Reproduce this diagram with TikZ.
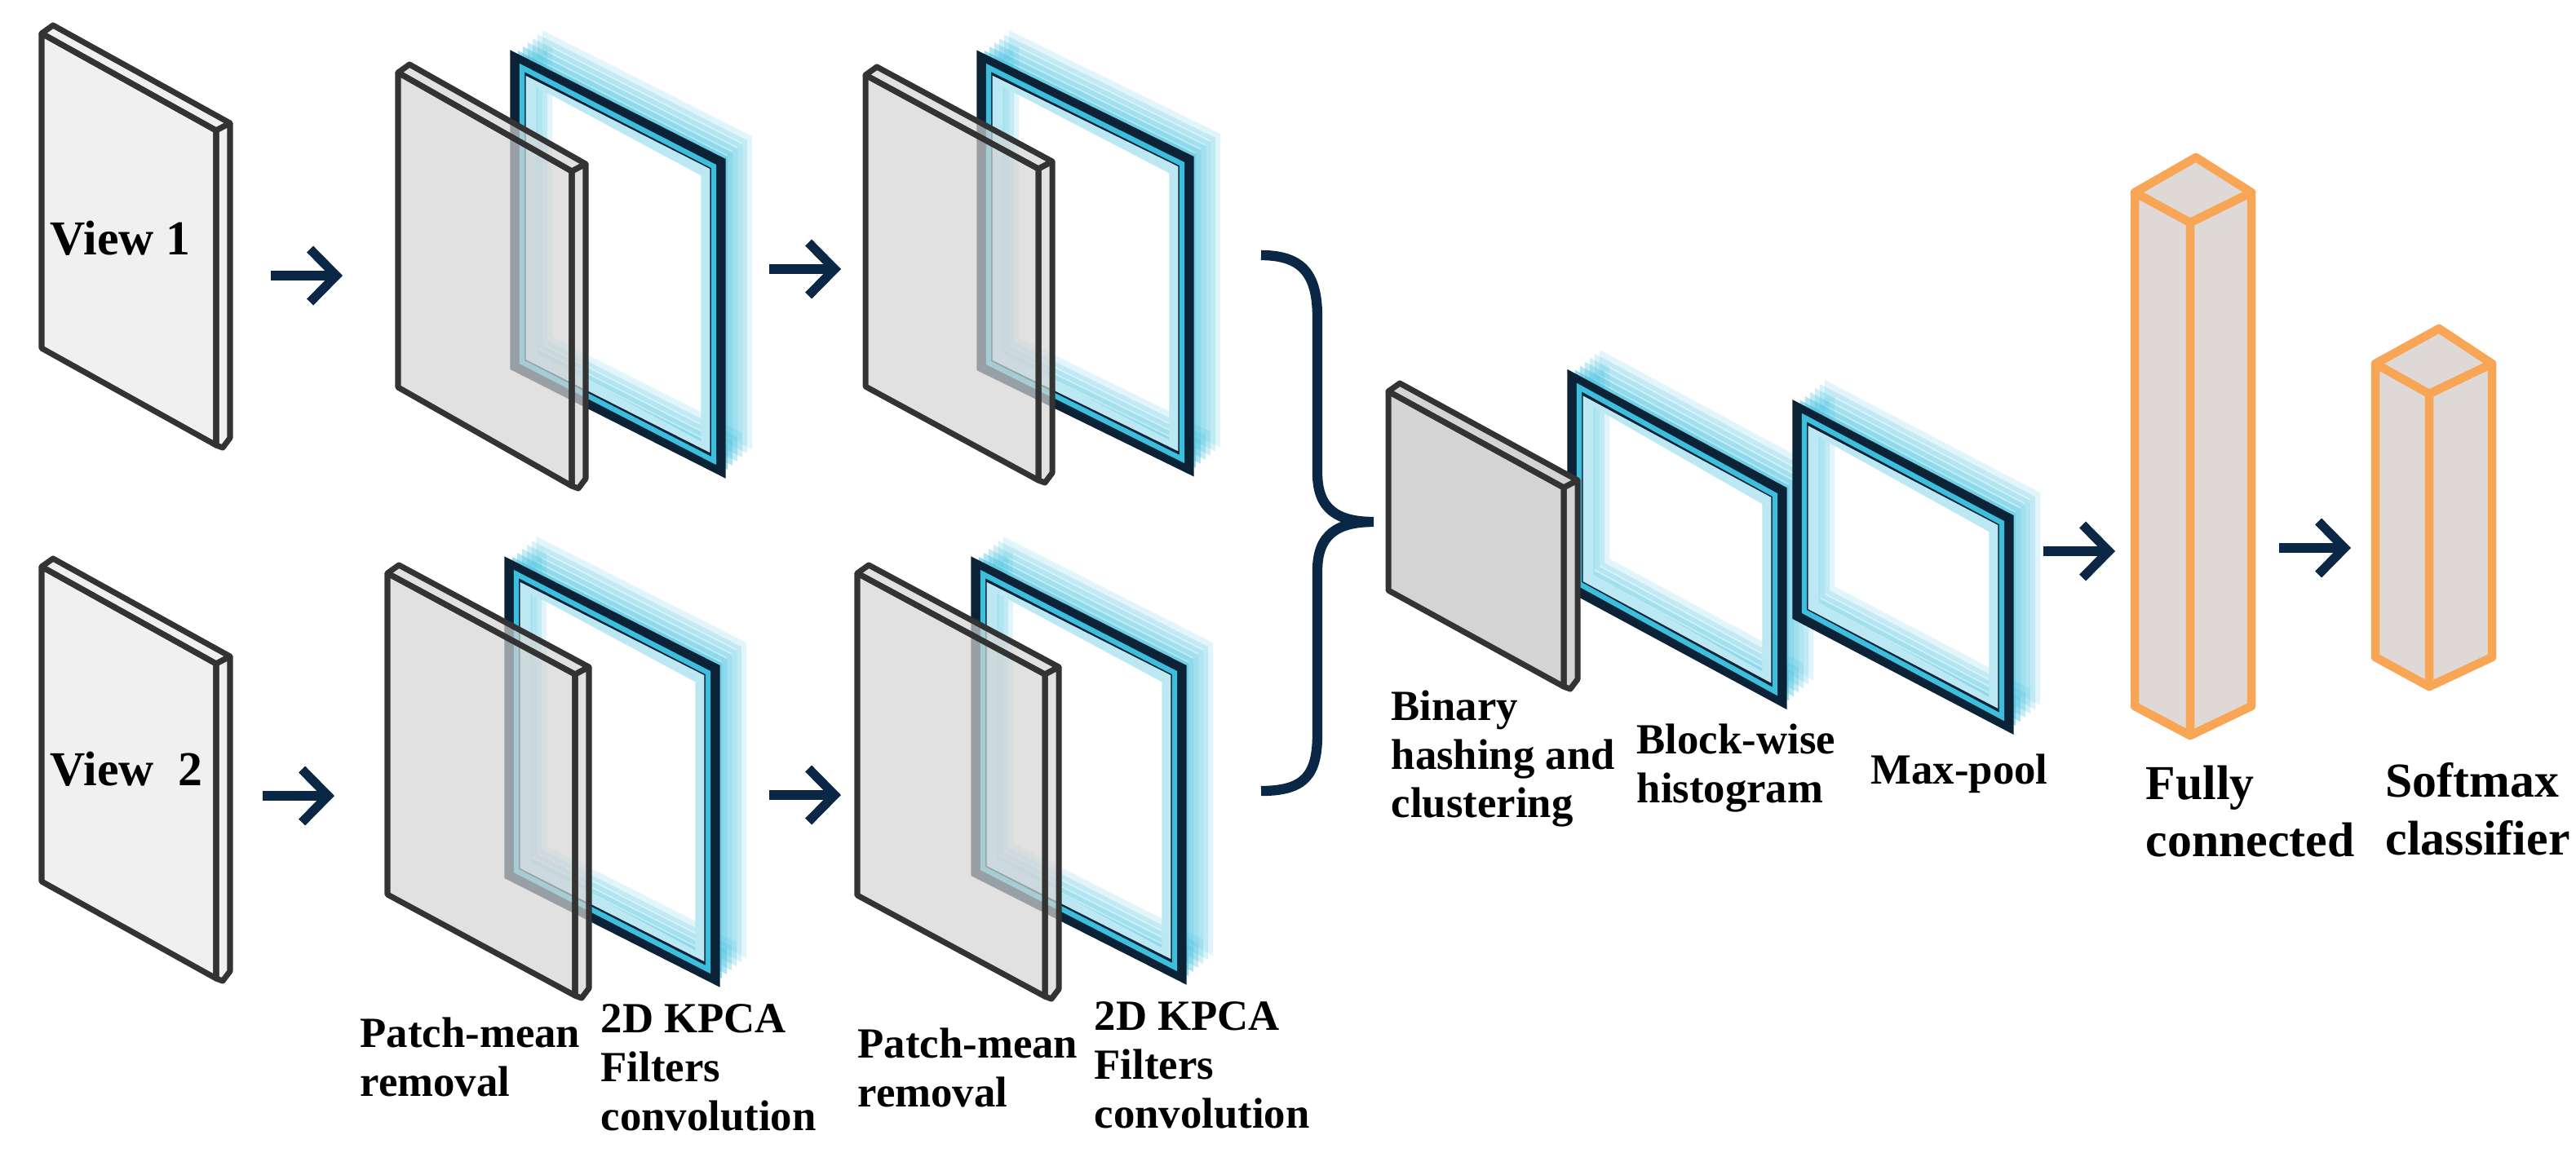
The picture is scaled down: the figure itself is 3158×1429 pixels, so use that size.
\documentclass[tikz,border=0pt]{standalone}
\usepackage{fontspec}
\setmainfont{Liberation Serif}
\usetikzlibrary{arrows.meta}
\definecolor{navy}{RGB}{10,40,70}
\definecolor{frm}{RGB}{12,35,55}
\definecolor{cy}{RGB}{60,190,220}
\definecolor{org}{RGB}{248,165,85}
\definecolor{colfill}{RGB}{222,216,214}
\newcommand{\myplate}[7]{% name x y w drop h fill
  \fill[#7] (#2,#3) -- ({#2+#4},{#3+#5}) -- ({#2+#4},{#3+#5+#6}) -- (#2,{#3+#6}) -- cycle;
  \draw[plateline,fill=#7] (#2,#3) -- ({#2+14},{#3-10}) -- ({#2+#4+17},{#3+#5-9}) -- ({#2+#4},{#3+#5}) -- cycle;
  \draw[plateline,fill=#7] ({#2+#4},{#3+#5}) -- ({#2+#4+17},{#3+#5-9}) -- ({#2+#4+17},{#3+#5+#6-9}) -- ({#2+#4+8},{#3+#5+#6+3}) -- ({#2+#4},{#3+#5+#6}) -- cycle;
  \draw[plateline] (#2,#3) -- ({#2+#4},{#3+#5}) -- ({#2+#4},{#3+#5+#6}) -- (#2,{#3+#6}) -- cycle;
  \coordinate (#1) at ({#2+#4/2},{#3+#5/2+#6/2});}
\newcommand{\myframe}[6]{% name x y w drop h
  \foreach \i/\o in {6/0.15,5/0.2,4/0.25,3/0.3,2/0.4,1/0.55}{
    \draw[cy,line width=3.5,opacity=\o] ({#2+6*\i},{#3-5*\i}) -- ({#2+#4+6*\i},{#3+#5-5*\i}) -- ({#2+#4+6*\i},{#3+#5+#6-5*\i}) -- ({#2+6*\i},{#3+#6-5*\i}) -- cycle;}
  \draw[cy!35,line width=6] ({#2+12},{#3+12}) -- ({#2+#4-10},{#3+#5+8}) -- ({#2+#4-10},{#3+#5+#6-12}) -- ({#2+12},{#3+#6-8}) -- cycle;
  \draw[frm,line width=5.5,line join=miter] (#2,#3) -- ({#2+#4},{#3+#5}) -- ({#2+#4},{#3+#5+#6}) -- (#2,{#3+#6}) -- cycle;
  \draw[cy,line width=1.8] ({#2+5},{#3+6}) -- ({#2+#4-5},{#3+#5+3}) -- ({#2+#4-5},{#3+#5+#6-6}) -- ({#2+5},{#3+#6-3}) -- cycle;
  \coordinate (#1) at ({#2+#4/2},{#3+#5/2+#6/2});}
\newcommand{\mycol}[7]{% name L F R yl h yb-x
  \fill[colfill] (#2,#5) -- (#7,{#5-43}) -- (#4,#5) -- (#4,{#5+#6}) -- (#3,{#5+#6+36}) -- (#2,{#5+#6}) -- cycle;
  \draw[org,line width=3,line join=round] (#2,#5) -- (#7,{#5-43}) -- (#4,#5) -- (#4,{#5+#6}) -- (#3,{#5+#6+36}) -- (#2,{#5+#6}) -- cycle;
  \draw[org,line width=3] (#2,#5) -- (#3,{#5+37}) -- (#4,#5) (#3,{#5+37}) -- (#3,{#5+#6+36});
  \coordinate (#1) at (#3,{#5+#6/2});}
\begin{document}
\begin{tikzpicture}[x=0.01cm,y=-0.01cm,
  plateline/.style={draw=black!80,line width=2,line join=round},
  arr/.style={navy,line width=3.2,-{Straight Barb[length=3.2mm,width=6.5mm,line width=3.2]}},
  lab/.style={font=\fontsize{15}{17}\selectfont\bfseries,align=left,inner sep=0,anchor=north west},
  big/.style={font=\fontsize{17}{20}\selectfont\bfseries,align=left,inner sep=0,anchor=north west}]
\useasboundingbox (0,0) rectangle (3158,1429);
% row 1
\myplate{v1}{51}{41}{214}{119}{386}{black!6}
\node[font=\fontsize{17}{20}\selectfont\bfseries,anchor=base west,inner sep=0] (tv1) at (61,312) {View 1};
\myframe{f11}{635}{77}{245}{124}{370}
\myplate{p11}{488}{89}{213}{121}{386}{black!17,fill opacity=0.7}
\myframe{f12}{1207}{77}{247}{121}{371}
\myplate{p12}{1061}{92}{212}{115}{382}{black!17,fill opacity=0.7}
% row 2
\myplate{v2}{51}{695}{214}{119}{386}{black!6}
\node[font=\fontsize{17}{20}\selectfont\bfseries,anchor=base west,inner sep=0] (tv2) at (61,963) {View~~2};
\myframe{f21}{628}{698}{245}{124}{373}
\myplate{p21}{475}{703}{230}{124}{394}{black!17,fill opacity=0.7}
\myframe{f22}{1200}{698}{245}{124}{370}
\myplate{p22}{1051}{703}{230}{124}{395}{black!17,fill opacity=0.7}
% arrows
\coordinate (a1s) at (332,338); \coordinate (a1e) at (420,338);
\coordinate (a2s) at (943,330); \coordinate (a2e) at (1031,330);
\coordinate (a3s) at (322,976); \coordinate (a3e) at (410,976);
\coordinate (a4s) at (943,975); \coordinate (a4e) at (1031,975);
\draw[arr] (a1s) -- (a1e); \draw[arr] (a2s) -- (a2e);
\draw[arr] (a3s) -- (a3e); \draw[arr] (a4s) -- (a4e);
% brace
\coordinate (bt) at (1546,313); \coordinate (bm) at (1684,640); \coordinate (bb) at (1546,970);
\draw[navy,line width=3.5] (bt) .. controls (1600,313) and (1615,340) .. (1615,390) -- (1615,580) .. controls (1615,625) and (1640,640) .. (bm)
  .. controls (1640,640) and (1615,655) .. (1615,700) -- (1615,900) .. controls (1615,950) and (1600,970) .. (bb);
% right part
\myframe{fb}{1931}{469}{250}{135}{250}
\myplate{pb}{1702}{480}{215}{118}{244}{black!17}
\myframe{fm}{2207}{506}{252}{132}{247}
\mycol{fc}{2617}{2685}{2760}{236}{630}{2692}
\mycol{sm}{2912}{2978}{3055}{446}{360}{2990}
\coordinate (a5s) at (2505,676); \coordinate (a5e) at (2593,676);
\coordinate (a6s) at (2794,672); \coordinate (a6e) at (2882,672);
\draw[arr] (a5s) -- (a5e); \draw[arr] (a6s) -- (a6e);
% labels
\node[lab] (l1) at (441,1247) {Patch-mean\\removal};
\node[lab] (l2) at (736,1231) {2D KPCA\\Filters\\convolution};
\node[lab] (l3) at (1051,1260) {Patch-mean\\removal};
\node[lab] (l4) at (1341,1228) {2D KPCA\\Filters\\convolution};
\node[lab] (l5) at (1705,846) {Binary\\hashing and\\clustering};
\node[lab] (l6) at (2006,887) {Block-wise\\histogram};
\node[lab] (l7) at (2293,924) {Max-pool};
\node[big] (l8) at (2630,938) {Fully\\connected};
\node[big] (l9) at (2924,935) {Softmax\\classifier};
\end{tikzpicture}
\end{document}
